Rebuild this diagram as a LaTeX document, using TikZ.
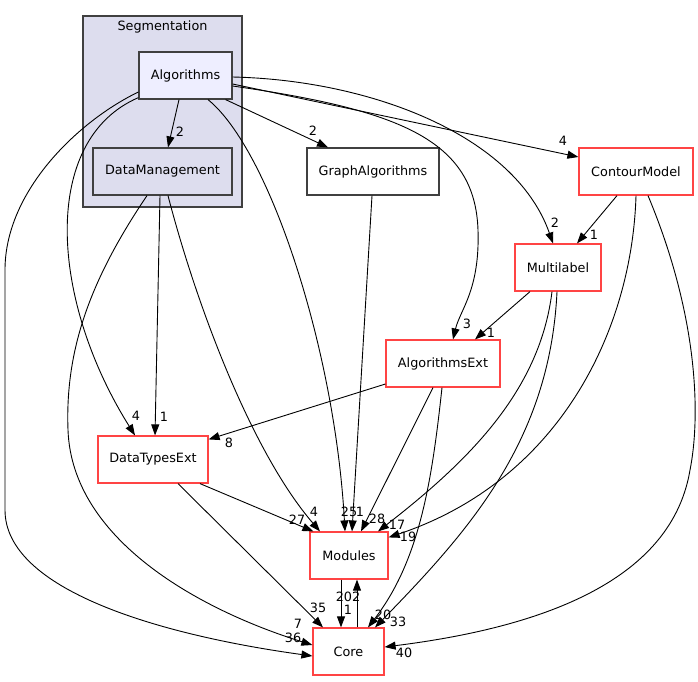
\documentclass[tikz,border=0pt]{standalone}
\usepackage{fontspec}
\setmainfont{DejaVu Sans}
\usetikzlibrary{arrows.meta,calc}
\definecolor{clusterfill}{HTML}{DDDDEE}
\definecolor{subfill}{HTML}{EEEEFF}
\definecolor{boxgray}{HTML}{404040}
\definecolor{boxred}{HTML}{FF4444}

\begin{document}
\begin{tikzpicture}[x=1pt,y=-1pt,
    dir/.style={draw, minimum height=47pt, inner sep=0pt, line width=1.2pt,
        font=\fontsize{12.8}{15}\selectfont},
    inner/.style={dir, draw=boxgray, fill=subfill},
    plain/.style={dir, draw=boxgray, fill=white},
    ext/.style={dir, draw=boxred, fill=white},
    dep/.style={draw, line width=0.9pt, -{Triangle[length=11pt,width=8pt]}},
    lbl/.style={inner sep=0pt, font=\fontsize{12.8}{15}\selectfont}
]
    \useasboundingbox (0,0) rectangle (698,681);

    % cluster
    \draw[boxgray, fill=clusterfill, line width=1.2pt] (83,16) rectangle (242,207);
    \node[lbl] (segtitle) at (162.5,27) {Segmentation};

    % directories
    \node[inner, minimum width=93pt] (alg) at (185.5,75.5) {Algorithms};
    \node[inner, fill=clusterfill, minimum width=139pt] (dm) at (162.5,171.5) {DataManagement};
    \node[plain, minimum width=132pt] (graph) at (373,171.5) {GraphAlgorithms};
    \node[ext, minimum width=114pt] (contour) at (636,171.5) {ContourModel};
    \node[ext, minimum width=86pt] (multi) at (558,267.5) {Multilabel};
    \node[ext, minimum width=114pt] (algext) at (443,363.5) {AlgorithmsExt};
    \node[ext, minimum width=110pt] (dtext) at (153,459.5) {DataTypesExt};
    \node[ext, minimum width=78pt] (modules) at (349,555.5) {Modules};
    \node[ext, minimum width=71pt] (core) at (348.5,651.5) {Core};

    % dependencies of Algorithms
    \draw[dep] ([xshift=-6.5pt]alg.south) -- ([xshift=5.5pt]dm.north);
    \draw[dep] ([xshift=-7pt]alg.south east) -- ([xshift=-45pt]graph.north);
    \draw[dep] ([yshift=-8.5pt]alg.east) -- ([yshift=14.5pt]contour.west);
    \draw[dep] ([yshift=-1.5pt]alg.east) .. controls (370,80) and (515,135) .. ([xshift=-5pt]multi.north);
    \draw[dep] ([yshift=-10.5pt]alg.east) .. controls (400,110) and (475,140) .. (478,230)
        .. controls (480,290) and (460,310) .. ([xshift=10pt]algext.north);
    \draw[dep] ([yshift=2pt]alg.south west) .. controls (40,140) and (50,300) .. ([xshift=-18pt]dtext.north);
    \draw[dep] ([xshift=22.5pt]alg.south) .. controls (270,150) and (335,350) .. ([xshift=-4pt]modules.north);
    \draw[dep] ([yshift=-16.5pt]alg.west) .. controls (80,120) and (5,190) .. (5,270) -- (5,510)
        .. controls (5,590) and (160,635) .. ([yshift=-4.5pt]core.west);

    % dependencies of DataManagement
    \draw[dep] ([xshift=-2.5pt]dm.south) -- ([xshift=2pt]dtext.north);
    \draw[dep] ([xshift=5.5pt]dm.south) .. controls (195,300) and (250,450) .. ([xshift=-29pt]modules.north);
    \draw[dep] ([xshift=-15.5pt]dm.south) .. controls (90,280) and (65,350) .. (68,430)
        .. controls (72,540) and (200,610) .. ([yshift=6.5pt]core.west);

    % other directories
    \draw[dep] ([xshift=-1pt]graph.south) -- ([xshift=3pt]modules.north);
    \draw[dep] ([xshift=-19pt]contour.south) -- ([xshift=19pt]multi.north);
    \draw[dep] (contour.south) .. controls (632,330) and (560,480) .. ([yshift=-6pt]modules.north east);
    \draw[dep] ([xshift=12pt]contour.south) .. controls (700,320) and (700,420) .. (690,470)
        .. controls (670,590) and (520,630) .. ([yshift=4.5pt]core.east);
    \draw[dep] ([xshift=-28pt]multi.south) -- ([xshift=32pt]algext.north);
    \draw[dep] ([xshift=-6pt]multi.south) .. controls (540,390) and (470,460) .. ([xshift=29pt]modules.north);
    \draw[dep] ([xshift=-1pt]multi.south) .. controls (550,440) and (470,530) .. ([xshift=26.5pt]core.north);
    \draw[dep] ([yshift=-20.5pt]algext.west) -- ([yshift=-4pt]dtext.north east);
    \draw[dep] ([xshift=-10pt]algext.south) -- ([xshift=12pt]modules.north);
    \draw[dep] ([xshift=-1pt]algext.south) .. controls (432,480) and (420,560) .. ([xshift=19.5pt]core.north);
    \draw[dep] ([xshift=47pt]dtext.south) -- ([xshift=4pt]modules.north west);
    \draw[dep] ([xshift=25pt]dtext.south) -- ([xshift=-25.5pt]core.north);
    \draw[dep] ([xshift=-8pt]modules.south) -- ([xshift=-7.5pt]core.north);
    \draw[dep] ([xshift=8.5pt]core.north) -- ([xshift=8pt]modules.south);

    % counts
    \node[lbl] (n1) at (180,132) {2};
    \node[lbl] (n2) at (313,131) {2};
    \node[lbl] (n3) at (563,141) {4};
    \node[lbl] (n4) at (555,223) {2};
    \node[lbl] (n5) at (594,235) {1};
    \node[lbl] (n6) at (467,324) {3};
    \node[lbl] (n7) at (491,333) {1};
    \node[lbl] (n8) at (136,416) {4};
    \node[lbl] (n9) at (164,417) {1};
    \node[lbl] (n10) at (229,443) {8};
    \node[lbl] (n11) at (297,520) {27};
    \node[lbl] (n12) at (314,512) {4};
    \node[lbl] (n13) at (349,512) {25};
    \node[lbl] (n14) at (360,512) {1};
    \node[lbl] (n15) at (377,519) {28};
    \node[lbl] (n16) at (397,525) {17};
    \node[lbl] (n17) at (408,537) {19};
    \node[lbl] (n18) at (318,608) {35};
    \node[lbl] (n19) at (298,624) {7};
    \node[lbl] (n20) at (293,638) {36};
    \node[lbl] (n21) at (348,597) {202};
    \node[lbl] (n22) at (348,610) {1};
    \node[lbl] (n23) at (383,615) {20};
    \node[lbl] (n24) at (398,622) {33};
    \node[lbl] (n25) at (404,653) {40};
\end{tikzpicture}
\end{document}
